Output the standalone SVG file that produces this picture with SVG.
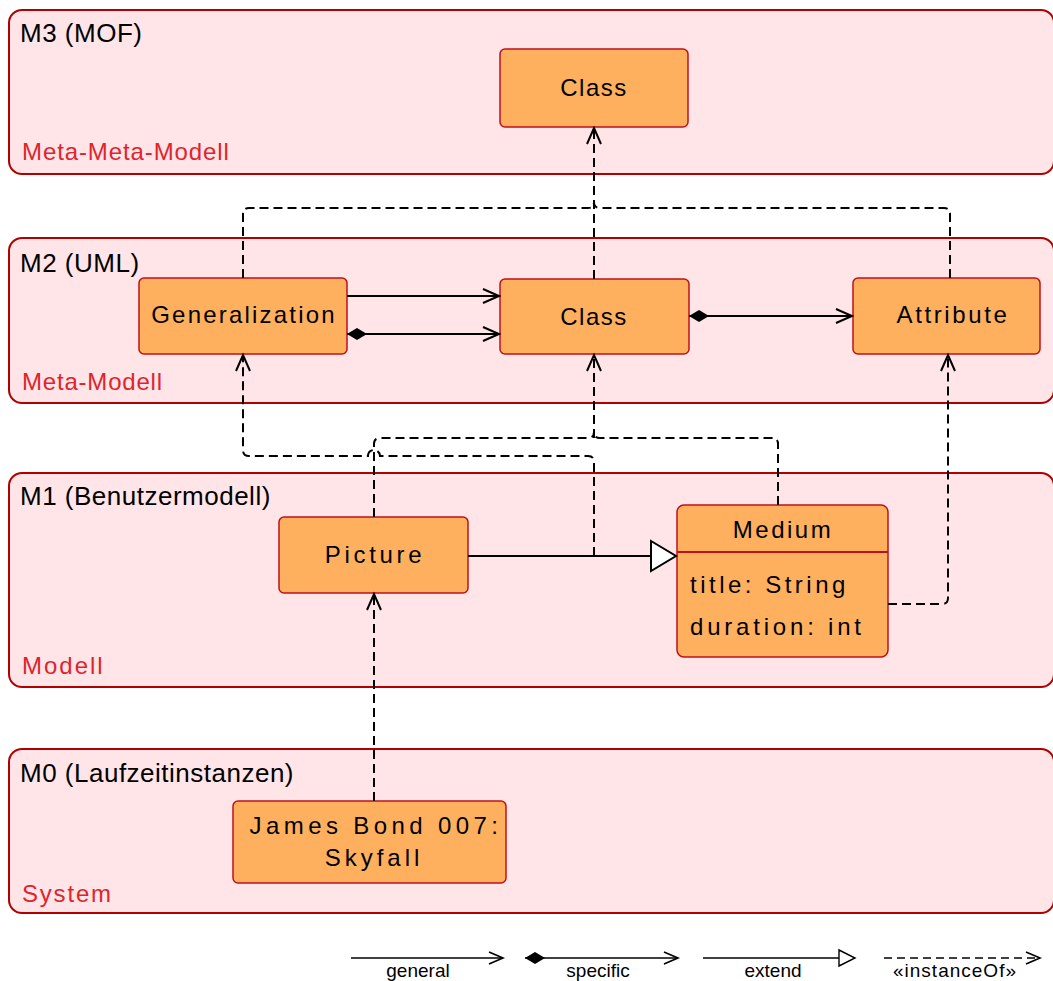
<svg xmlns="http://www.w3.org/2000/svg" width="1053" height="981" viewBox="0 0 1053 981">
<style>
.panel{fill:#ffe5e8;stroke:#b00000;stroke-width:2}
.title{font-family:"Liberation Sans",Arial,sans-serif;font-size:26px;fill:#000;letter-spacing:0.5px}
.sub{font-family:"Liberation Sans",Arial,sans-serif;font-size:24px;fill:#e0242c}
.node{fill:#ffb05e;stroke:#c0101a;stroke-width:1.5}
.nt{font-family:"Liberation Sans",Arial,sans-serif;font-size:24px;fill:#000;text-anchor:middle}
.at{font-family:"Liberation Sans",Arial,sans-serif;font-size:24px;fill:#000}
.solid{fill:none;stroke:#000;stroke-width:2}
.dash{fill:none;stroke:#000;stroke-width:2;stroke-dasharray:9 5}
.lg{fill:none;stroke:#000;stroke-width:1.6}
.lgd{fill:none;stroke:#000;stroke-width:1.6;stroke-dasharray:8 5}
.lt{font-family:"Liberation Sans",Arial,sans-serif;font-size:19px;fill:#000;text-anchor:middle}
</style>
<defs>
<marker id="open" markerUnits="userSpaceOnUse" markerWidth="20" markerHeight="18" refX="17" refY="8" orient="auto" overflow="visible">
<path d="M1,1 L17,8 L1,15" fill="none" stroke="#000" stroke-width="2"/>
</marker>
<marker id="dia" markerUnits="userSpaceOnUse" markerWidth="22" markerHeight="14" refX="0" refY="7" orient="auto" overflow="visible">
<path d="M0,7 L10,1 L20,7 L10,13 Z" fill="#000"/>
</marker>
<marker id="tri" markerUnits="userSpaceOnUse" markerWidth="28" markerHeight="32" refX="26" refY="16" orient="auto" overflow="visible">
<path d="M1,1 L26,16 L1,31 Z" fill="#fff" stroke="#000" stroke-width="2"/>
</marker>
<marker id="lopen" markerUnits="userSpaceOnUse" markerWidth="18" markerHeight="14" refX="15" refY="7" orient="auto" overflow="visible">
<path d="M1,1 L15,7 L1,13" fill="none" stroke="#000" stroke-width="1.6"/>
</marker>
<marker id="ldia" markerUnits="userSpaceOnUse" markerWidth="22" markerHeight="14" refX="0" refY="6" orient="auto" overflow="visible">
<path d="M0,6 L10,0 L20,6 L10,12 Z" fill="#000"/>
</marker>
<marker id="ltri" markerUnits="userSpaceOnUse" markerWidth="20" markerHeight="20" refX="17" refY="9" orient="auto" overflow="visible">
<path d="M1,1 L17,9 L1,17 Z" fill="#fff" stroke="#000" stroke-width="1.4"/>
</marker>
</defs>

<g id="layer-m3">
<rect class="panel" x="9" y="10" width="1045" height="164" rx="13"/>
<text class="title" x="20" y="42">M3 (MOF)</text>
<text class="sub" x="22" y="160" style="letter-spacing:0.9px">Meta-Meta-Modell</text>
</g>
<g id="layer-m2">
<rect class="panel" x="9" y="238" width="1045" height="165" rx="13"/>
<text class="title" x="20" y="272">M2 (UML)</text>
<text class="sub" x="22" y="390" style="letter-spacing:0.8px">Meta-Modell</text>
</g>
<g id="layer-m1">
<rect class="panel" x="9" y="473" width="1045" height="214" rx="13"/>
<text class="title" x="20" y="505">M1 (Benutzermodell)</text>
<text class="sub" x="22" y="674" style="letter-spacing:2px">Modell</text>
</g>
<g id="layer-m0">
<rect class="panel" x="9" y="749" width="1045" height="164" rx="13"/>
<text class="title" x="20" y="782">M0 (Laufzeitinstanzen)</text>
<text class="sub" x="22" y="902" style="letter-spacing:1.8px">System</text>
</g>

<g id="node-class-m3">
<rect class="node" x="500" y="49" width="188" height="78" rx="5"/>
<text class="nt" x="594" y="96" style="letter-spacing:1.5px">Class</text>
</g>
<g id="node-generalization">
<rect class="node" x="139" y="278" width="208" height="76" rx="5"/>
<text class="nt" x="244" y="323" style="letter-spacing:2.2px">Generalization</text>
</g>
<g id="node-class-m2">
<rect class="node" x="500" y="279" width="189" height="75" rx="5"/>
<text class="nt" x="594" y="325" style="letter-spacing:1.5px">Class</text>
</g>
<g id="node-attribute">
<rect class="node" x="853" y="278" width="187" height="76" rx="5"/>
<text class="nt" x="953" y="323" style="letter-spacing:2.6px">Attribute</text>
</g>
<g id="node-picture">
<rect class="node" x="279" y="517" width="189" height="76" rx="5"/>
<text class="nt" x="375" y="563" style="letter-spacing:3.7px">Picture</text>
</g>
<g id="node-medium">
<rect class="node" x="677" y="505" width="211" height="152" rx="7"/>
<line x1="677" y1="552" x2="888" y2="552" stroke="#c0101a" stroke-width="2"/>
<text class="nt" x="783" y="538" style="letter-spacing:2.5px">Medium</text>
<text class="at" x="690" y="593" style="letter-spacing:3.5px">title: String</text>
<text class="at" x="690" y="635" style="letter-spacing:3.8px">duration: int</text>
</g>
<g id="node-skyfall">
<rect class="node" x="233" y="801" width="273" height="82" rx="5"/>
<text class="nt" x="376" y="834" style="letter-spacing:4.4px">James Bond 007:</text>
<text class="nt" x="374" y="866" style="letter-spacing:4px">Skyfall</text>
</g>

<g id="connectors">
<path class="dash" d="M594,279 V128" marker-end="url(#open)"/>
<path class="dash" d="M243,278 V214 Q243,208 249,208 H588 Q594,208 594,202"/>
<path class="dash" d="M950,278 V214 Q950,208 944,208 H600 Q594,208 594,202"/>
<path class="solid" d="M347,296 H499" marker-end="url(#open)"/>
<path class="solid" d="M347,334 H499" marker-start="url(#dia)" marker-end="url(#open)"/>
<path class="solid" d="M689,316 H852" marker-start="url(#dia)" marker-end="url(#open)"/>
<path class="solid" d="M468,556 H676" marker-end="url(#tri)"/>
<path class="dash" d="M594,438 V355" marker-end="url(#open)"/>
<path class="dash" d="M374,517 V444 Q374,438 380,438 H588 Q594,438 594,432"/>
<path class="dash" d="M778,505 V444 Q778,438 772,438 H600 Q594,438 594,432"/>
<path class="dash" d="M594,556 V462 Q594,456 588,456 H380 A6,6 0 0 0 368,456 H249 Q243,456 243,450 V355" marker-end="url(#open)"/>
<path class="dash" d="M888,604 H942 Q948,604 948,598 V355" marker-end="url(#open)"/>
<path class="dash" d="M374,801 V594" marker-end="url(#open)"/>
</g>

<g id="legend">
<path class="lg" d="M351,958 H503" marker-end="url(#lopen)"/>
<text class="lt" x="418" y="977">general</text>
<path class="lg" d="M525,958 H678" marker-start="url(#ldia)" marker-end="url(#lopen)"/>
<text class="lt" x="598" y="977">specific</text>
<path class="lg" d="M703,958 H855" marker-end="url(#ltri)"/>
<text class="lt" x="773" y="977">extend</text>
<path class="lgd" d="M884,958 H1040" marker-end="url(#lopen)"/>
<text class="lt" x="955" y="977" style="letter-spacing:1px">«instanceOf»</text>
</g>
</svg>
